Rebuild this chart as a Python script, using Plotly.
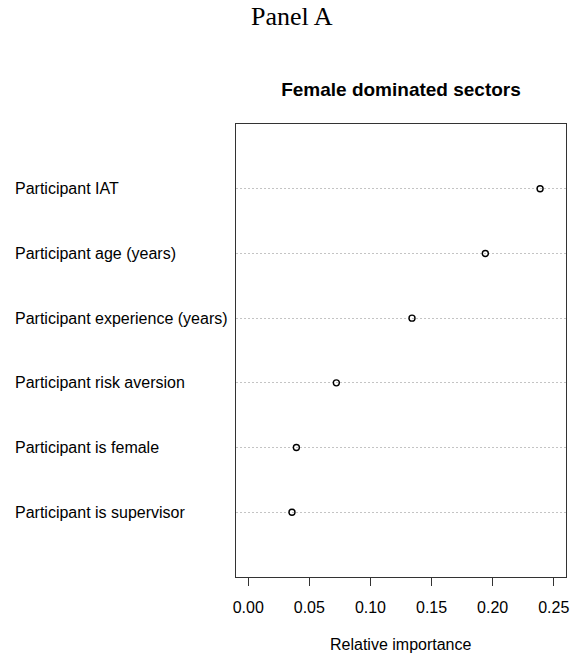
import plotly.graph_objects as go

# dotchart data, bottom row first (as R draws it)
labels = [
    "Participant is supervisor",
    "Participant is female",
    "Participant risk aversion",
    "Participant experience (years)",
    "Participant age (years)",
    "Participant IAT",
]
importance = [0.0358, 0.0394, 0.0721, 0.134, 0.194, 0.2388]
tick_vals = [0.00, 0.05, 0.10, 0.15, 0.20, 0.25]
tick_text = ["0.00", "0.05", "0.10", "0.15", "0.20", "0.25"]

rows = list(range(1, len(labels) + 1))

W, H = 571, 657
L, R, T, B = 236, 5, 124, 80
PW, PH = W - L - R, H - T - B

font_sans = "Liberation Sans, Arial"

fig = go.Figure()
fig.add_trace(go.Scatter(
    x=importance, y=rows, mode="markers",
    marker=dict(symbol="circle-open", size=6, color="black",
                line=dict(width=1.4, color="black")),
    hoverinfo="x",
    showlegend=False,
))

# row labels, left aligned like R's dotchart
for r, lab in zip(rows, labels):
    fig.add_annotation(
        x=(13 - L) / PW, xref="paper", y=r, yref="y", text=lab,
        showarrow=False, xanchor="left", yanchor="middle",
        font=dict(family=font_sans, size=16, color="black"),
    )

fig.add_annotation(
    x=0.5, xref="paper", y=(T + PH - 644) / PH, yref="paper",
    text="Relative importance",
    showarrow=False, xanchor="center", yanchor="middle",
    font=dict(family=font_sans, size=16, color="black"),
)

# overall panel heading
fig.add_annotation(
    x=(292 - L) / PW, xref="paper", y=1 + (T - 17) / PH, yref="paper",
    text="Panel A", showarrow=False, xanchor="center", yanchor="middle",
    font=dict(family="Liberation Serif, serif", size=26, color="black"),
)

fig.update_layout(
    width=W, height=H,
    margin=dict(l=L, r=R, t=T, b=B),
    paper_bgcolor="white", plot_bgcolor="white",
    title=dict(
        text="<b>Female dominated sectors</b>",
        x=401 / W, xanchor="center", xref="container",
        y=1 - 89 / H, yanchor="middle", yref="container",
        font=dict(family=font_sans, size=19, color="black"),
    ),
    xaxis=dict(
        range=[-0.01, 0.26], tickvals=tick_vals, ticktext=tick_text,
        ticks="outside", ticklen=8, tickcolor="#333333", tickwidth=1,
        ticklabelstandoff=8, automargin=False,
        showline=True, mirror=True, linecolor="#333333", linewidth=1.4,
        showgrid=False, zeroline=False,
        tickfont=dict(family=font_sans, size=16, color="black"),
    ),
    yaxis=dict(
        range=[0, 7], tickvals=rows, showticklabels=False, ticks="",
        automargin=False,
        showline=True, mirror=True, linecolor="#333333", linewidth=1.4,
        showgrid=True, gridcolor="#c4c4c4", gridwidth=1, griddash="2px,2px",
        zeroline=False,
    ),
)

# drop the page's default 8px body margin so the figure fills the window
fig.write_html(
    "out.html",
    config={"displayModeBar": False},
    post_script="document.body.style.margin='0';"
                "document.body.style.overflow='hidden';",
)
